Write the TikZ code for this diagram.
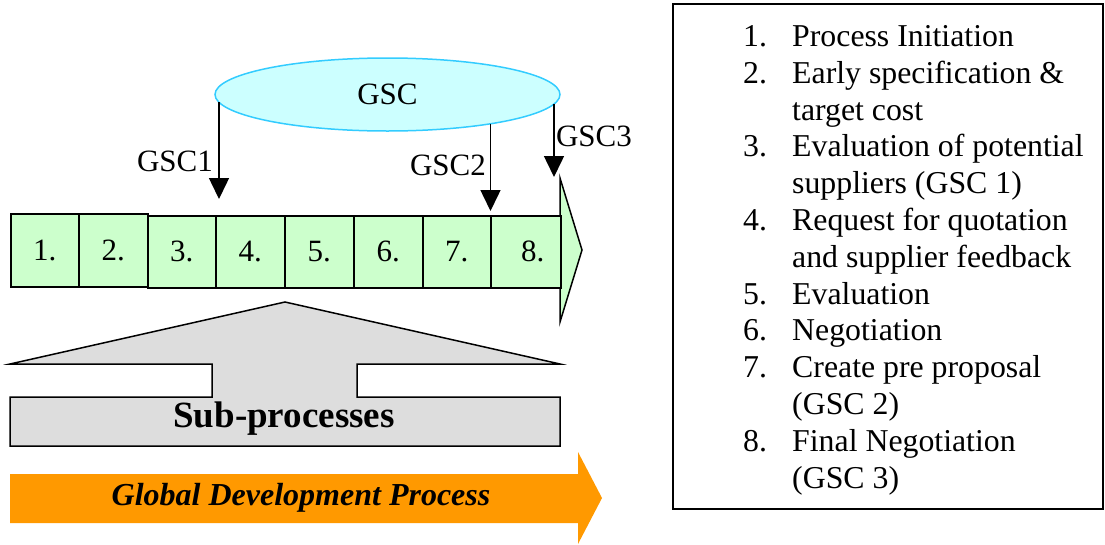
\documentclass[tikz,border=0pt]{standalone}
\usepackage{fontspec}
\setmainfont{Liberation Serif}
\usetikzlibrary{shapes.geometric,arrows.meta}
\definecolor{cellgreen}{HTML}{CCFFCC}
\definecolor{gsccyan}{HTML}{CCFFFF}
\definecolor{gscline}{HTML}{33CCFF}
\definecolor{subgrey}{HTML}{DDDDDD}
\definecolor{gdporange}{HTML}{FF9900}
\begin{document}
\begin{tikzpicture}[x=1pt,y=-1pt,
  every node/.style={font=\fontsize{31}{36.8}\selectfont, inner sep=0pt},
  cell/.style={draw=black, line width=1.5pt, fill=cellgreen, minimum height=72pt, anchor=north west},
  gscarrow/.style={line width=1.5pt, -{Triangle[width=20pt,length=21pt]}},
  lbl/.style={anchor=base west, font=\fontsize{31.8}{36.8}\selectfont},
]
\useasboundingbox (0,0) rectangle (1105,544);

% GSC ellipse
\node[ellipse, draw=gscline, line width=1.5pt, fill=gsccyan, minimum width=345pt, minimum height=73pt] (gsc) at (387.5,94.5) {GSC};

% green process arrow
\draw[line width=1.5pt, fill=cellgreen] (560,215) -- (560,178) -- (582,250) -- (560,322) -- (560,287) -- cycle;
\node[cell, minimum width=68pt, minimum height=73pt] (b1) at (10,213) {1.};
\node[cell, minimum width=69pt, minimum height=73pt] (b2) at (78,213) {2.};
\node[cell, minimum width=68pt] (b3) at (147,215) {3.};
\node[cell, minimum width=69pt] (b4) at (215,215) {4.};
\node[cell, minimum width=69pt] (b5) at (284,215) {5.};
\node[cell, minimum width=69pt] (b6) at (353,215) {6.};
\node[cell, minimum width=68pt] (b7) at (422,215) {7.};
\node[cell, minimum width=70pt] (b8) at (490,215) {\hspace*{14pt}8.};

% GSC arrows
\coordinate (s1) at (219,102.3);
\coordinate (s2) at (490.5,123.7);
\coordinate (s3) at (554,104);
\coordinate (t1) at (219,199);
\coordinate (t2) at (490.5,211);
\coordinate (t3) at (554,177);
\draw[gscarrow] (s1) -- (t1);
\draw[gscarrow] (s2) -- (t2);
\draw[gscarrow] (s3) -- (t3);
\node (g1) at (175,161) {GSC1};
\node (g2) at (448,165) {GSC2};
\node (g3) at (594,136) {GSC3};

% Sub-processes
\draw[line width=1.5pt, fill=subgrey] (285,302) -- (560,364) -- (357,364) -- (357,397) -- (560,397) -- (560,446) -- (10,446) -- (10,397) -- (212,397) -- (212,364) -- (10,364) -- cycle;
\node[font=\fontsize{37}{42}\selectfont\bfseries] (sub) at (284,419) {Sub-processes};

% Global development process
\fill[gdporange] (10,474) -- (578,474) -- (578,452) -- (602,498) -- (578,544) -- (578,523) -- (10,523) -- cycle;
\node[font=\fontsize{32}{37}\selectfont\bfseries\itshape] (gdp) at (301,498) {Global Development Process};

% legend box
\draw[line width=2.5pt] (673,4) rectangle (1103,509);
\node[lbl] (n1) at (743,46.5) {1.};
\node[lbl] (i1) at (792,46.5) {Process Initiation};
\node[lbl] (n2) at (743,83.3) {2.};
\node[lbl] (i2a) at (792,83.3) {Early specification \&};
\node[lbl] (i2b) at (792,120.1) {target cost};
\node[lbl] (n3) at (743,156.9) {3.};
\node[lbl] (i3a) at (792,156.9) {Evaluation of potential};
\node[lbl] (i3b) at (792,193.7) {suppliers (GSC 1)};
\node[lbl] (n4) at (743,230.5) {4.};
\node[lbl] (i4a) at (792,230.5) {Request for quotation};
\node[lbl] (i4b) at (792,267.3) {and supplier feedback};
\node[lbl] (n5) at (743,304.1) {5.};
\node[lbl] (i5) at (792,304.1) {Evaluation};
\node[lbl] (n6) at (743,340.9) {6.};
\node[lbl] (i6) at (792,340.9) {Negotiation};
\node[lbl] (n7) at (743,377.7) {7.};
\node[lbl] (i7a) at (792,377.7) {Create pre proposal};
\node[lbl] (i7b) at (792,414.5) {(GSC 2)};
\node[lbl] (n8) at (743,451.3) {8.};
\node[lbl] (i8a) at (792,451.3) {Final Negotiation};
\node[lbl] (i8b) at (792,488.1) {(GSC 3)};
\end{tikzpicture}
\end{document}
